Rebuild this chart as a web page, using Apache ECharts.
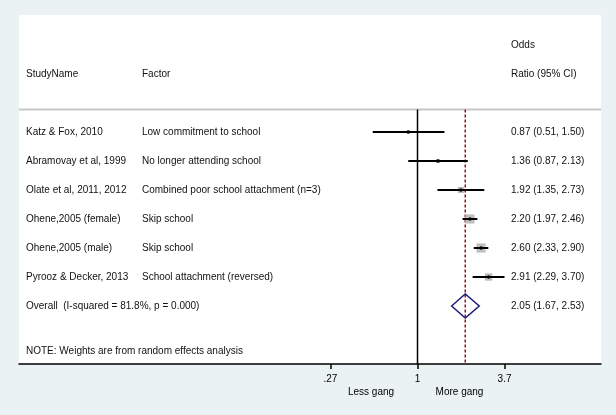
<!DOCTYPE html>
<html>
<head>
<meta charset="utf-8">
<script src="https://cdn.jsdelivr.net/npm/echarts@6/dist/echarts.min.js"></script>
<style>
  html, body { margin: 0; padding: 0; background: #eaf2f3; }
  #chart { width: 616px; height: 415px; }
</style>
</head>
<body>
<div id="chart"></div>
<script>
// ---- data ----
const studies = ['Katz & Fox, 2010', 'Abramovay et al, 1999', 'Olate et al, 2011, 2012',
  'Ohene,2005 (female)', 'Ohene,2005 (male)', 'Pyrooz & Decker, 2013'];
const factors = ['Low commitment to school', 'No longer attending school',
  'Combined poor school attachment (n=3)', 'Skip school', 'Skip school',
  'School attachment (reversed)'];
const oddsRatio = [0.87, 1.36, 1.92, 2.20, 2.60, 2.91];
const ciLower = [0.51, 0.87, 1.35, 1.97, 2.33, 2.29];
const ciUpper = [1.50, 2.13, 2.73, 2.46, 2.90, 3.70];
const weights = [4, 6, 13, 29, 29, 19];
const overallLabel = 'Overall  (I-squared = 81.8%, p = 0.000)';
const overallEstimate = [2.05, 1.67, 2.53]; // OR, lower, upper
const headerLeft = ['StudyName', 'Factor'];
const headerRight = ['Odds', 'Ratio (95% CI)'];
const noteText = 'NOTE: Weights are from random effects analysis';
const tickValues = [0.27, 1, 3.7];
const tickLabels = ['.27', '1', '3.7'];
const directionLabels = ['Less gang', 'More gang'];

// ---- layout helpers ----
const FONT = '"Liberation Sans", Arial, sans-serif';
const X_MIN = -5.992, X_MAX = 2.759;
const Y_MIN = -3.034, Y_MAX = 9;
const HEADER_LINE_ROW = 0.225;
const NOTE_ROW = 8.55;
const fmt = v => v.toFixed(2);
const ciText = (o, l, u) => fmt(o) + ' (' + fmt(l) + ', ' + fmt(u) + ')';

// text rows: [row, leftText, midText, rightText]
const textRows = [];
textRows.push([-2, '', '', headerRight[0]]);
textRows.push([-1, headerLeft[0], headerLeft[1], headerRight[1]]);
studies.forEach((s, i) => textRows.push([i + 1, s, factors[i], ciText(oddsRatio[i], ciLower[i], ciUpper[i])]));
textRows.push([studies.length + 1, overallLabel, '', ciText(overallEstimate[0], overallEstimate[1], overallEstimate[2])]);
textRows.push([NOTE_ROW, noteText, '', '']);

const studyData = studies.map((s, i) => [i + 1, Math.log(oddsRatio[i]), Math.log(ciLower[i]), Math.log(ciUpper[i]), weights[i]]);
const overallRow = studies.length + 1;
const overallData = [[overallRow, Math.log(overallEstimate[0]), Math.log(overallEstimate[1]), Math.log(overallEstimate[2])]];
const lnTicks = tickValues.map(v => Math.log(v));

const chart = echarts.init(document.getElementById('chart'));
const textStyleBase = { fontFamily: FONT, fontSize: 10, fill: '#111' };

chart.setOption({
  backgroundColor: '#eaf2f3',
  animation: false,
  textStyle: { fontFamily: FONT },
  grid: { left: 19, right: 15, top: 15, bottom: 51, show: true, backgroundColor: '#ffffff', borderWidth: 0 },
  xAxis: {
    type: 'value', min: X_MIN, max: X_MAX,
    splitLine: { show: false },
    axisLine: { show: true, onZero: false, lineStyle: { color: '#000', width: 1.5 } },
    axisTick: { show: true, length: 5, customValues: lnTicks, lineStyle: { color: '#000', width: 1.5 } },
    axisLabel: {
      show: true, customValues: lnTicks, margin: 10, color: '#000', fontSize: 10, fontFamily: FONT,
      formatter: v => {
        let best = 0;
        lnTicks.forEach((t, i) => { if (Math.abs(t - v) < Math.abs(lnTicks[best] - v)) best = i; });
        return tickLabels[best];
      }
    }
  },
  yAxis: { type: 'value', inverse: true, min: Y_MIN, max: Y_MAX, show: false },
  graphic: [
    { type: 'text', x: 371, y: 392, style: { text: directionLabels[0], fontFamily: FONT, fontSize: 10, fill: '#000', textAlign: 'center', textVerticalAlign: 'middle' } },
    { type: 'text', x: 459.5, y: 392, style: { text: directionLabels[1], fontFamily: FONT, fontSize: 10, fill: '#000', textAlign: 'center', textVerticalAlign: 'middle' } }
  ],
  series: [
    { // header separator
      type: 'line', symbol: 'none', silent: true, z: 1,
      data: [[X_MIN, HEADER_LINE_ROW], [X_MAX, HEADER_LINE_ROW]],
      lineStyle: { color: '#c8c8c8', width: 2 }
    },
    { // null line at OR = 1
      type: 'line', symbol: 'none', silent: true, z: 2,
      data: [[0, HEADER_LINE_ROW], [0, Y_MAX]],
      lineStyle: { color: '#000', width: 1.5 }
    },
    { // overall estimate line
      type: 'line', symbol: 'none', silent: true, z: 2,
      data: [[Math.log(overallEstimate[0]), HEADER_LINE_ROW], [Math.log(overallEstimate[0]), Y_MAX]],
      lineStyle: { color: '#8b1a1a', width: 1.5, type: [3, 2] }
    },
    { // study estimates
      type: 'custom', z: 3,
      encode: { x: [1, 2, 3], y: 0 },
      data: studyData,
      renderItem: (params, api) => {
        const row = api.value(0);
        const c = api.coord([api.value(1), row]);
        const l = api.coord([api.value(2), row]);
        const h = api.coord([api.value(3), row]);
        const s = Math.sqrt(api.value(4)) * 1.7;
        return {
          type: 'group', children: [
            { type: 'rect', shape: { x: c[0] - s / 2, y: c[1] - s / 2, width: s, height: s }, style: { fill: '#bfbfbf' } },
            { type: 'line', shape: { x1: l[0], y1: l[1], x2: h[0], y2: h[1] }, style: { stroke: '#000', lineWidth: 2 } },
            { type: 'circle', shape: { cx: c[0], cy: c[1], r: 1.7 }, style: { fill: '#000' } }
          ]
        };
      }
    },
    { // overall diamond
      type: 'custom', z: 4,
      encode: { x: [1, 2, 3], y: 0 },
      data: overallData,
      renderItem: (params, api) => {
        const row = api.value(0);
        const c = api.coord([api.value(1), row]);
        const l = api.coord([api.value(2), row]);
        const h = api.coord([api.value(3), row]);
        const hh = 12;
        return {
          type: 'polygon',
          shape: { points: [[l[0], l[1]], [c[0], c[1] - hh], [h[0], h[1]], [c[0], c[1] + hh]] },
          style: { fill: 'none', stroke: '#1c1c78', lineWidth: 1.5 }
        };
      }
    },
    { // text columns
      type: 'custom', z: 5, silent: true,
      encode: { x: 1, y: 0 },
      data: textRows.map(r => [r[0], 0]),
      renderItem: (params, api) => {
        const r = textRows[params.dataIndex];
        const p = api.coord([0, r[0]]);
        const gx = params.coordSys.x;
        const mk = (x, t) => ({ type: 'text', x: x, y: p[1], style: Object.assign({ text: t, textAlign: 'left', textVerticalAlign: 'middle' }, textStyleBase) });
        return { type: 'group', children: [mk(gx + 7, r[1]), mk(gx + 123, r[2]), mk(gx + 492, r[3])] };
      }
    }
  ]
});
</script>
</body>
</html>
